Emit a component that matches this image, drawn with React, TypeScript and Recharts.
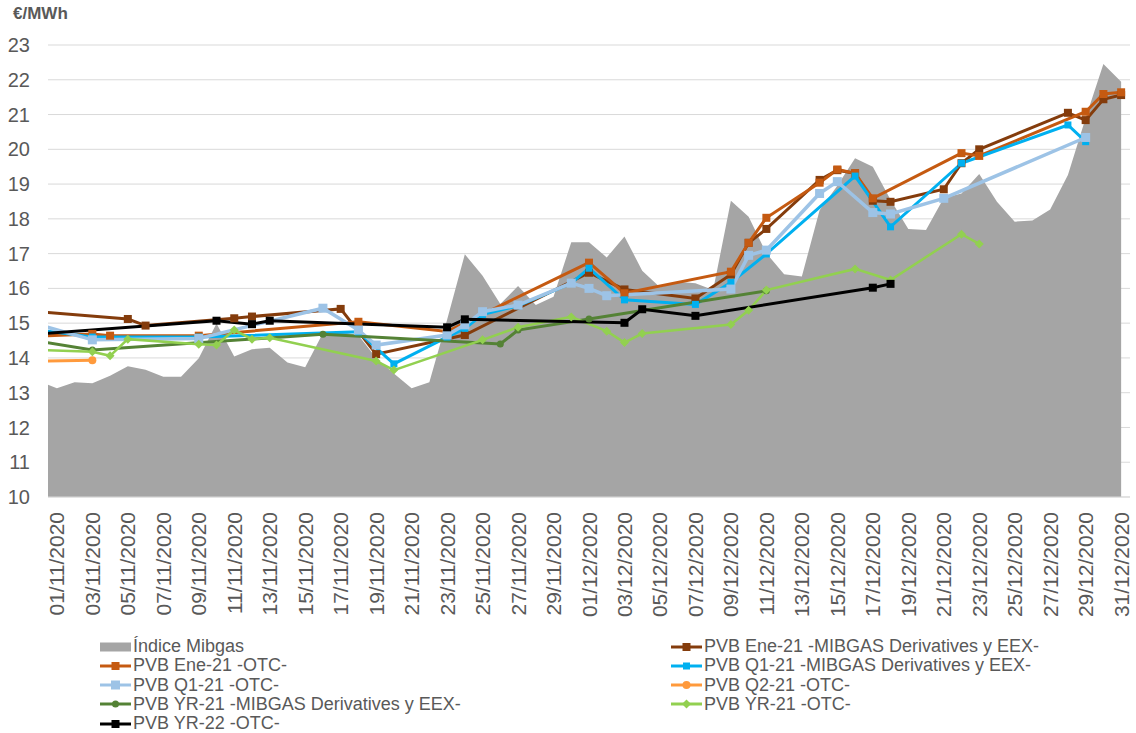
import React from 'react';
import { ComposedChart, Area, Line, XAxis, YAxis, CartesianGrid } from 'recharts';

const COLORS = {
  mibgas: '#A5A5A5',
  ene21Mibgas: '#843C0C',
  ene21Otc: '#C55A11',
  q121Mibgas: '#00B0F0',
  q121Otc: '#9DC3E6',
  q221Otc: '#FF9A3C',
  yr21Mibgas: '#548235',
  yr21Otc: '#92D050',
  yr22Otc: '#000000',
  grid: '#D9D9D9',
  text: '#595959',
};

// 31/10 sits half a day left of the plot so the lines run in from the edge
const DATES = [
  '31/10/2020',
  ...Array.from({ length: 30 }, (_, i) => `${String(i + 1).padStart(2, '0')}/11/2020`),
  ...Array.from({ length: 31 }, (_, i) => `${String(i + 1).padStart(2, '0')}/12/2020`),
];

const Y_TICKS = [10, 11, 12, 13, 14, 15, 16, 17, 18, 19, 20, 21, 22, 23];

// Índice Mibgas, one value per date
const MIBGAS = [
  13.32, 13.13, 13.3, 13.27, 13.49, 13.76, 13.66, 13.46, 13.46, 13.99, 14.99,
  14.04, 14.25, 14.29, 13.87, 13.73, 14.72, 14.75, 14.65, 14.0, 13.55, 13.13,
  13.3, 15.1, 16.98, 16.36, 15.55, 16.07, 15.52, 15.76, 17.33, 17.33, 16.89,
  17.49, 16.51, 16.03, 16.19, 16.15, 15.95, 18.52, 18.06, 17.01, 16.41, 16.34,
  18.25, 18.95, 19.74, 19.5, 18.55, 17.71, 17.68, 18.6, 18.73, 19.29, 18.49,
  17.92, 17.95, 18.27, 19.26, 20.9, 22.45, 21.94,
];

type Pt = [string, number];

const ENE21_MIBGAS: Pt[] = [
  ['31/10', 15.33], ['05/11', 15.12], ['06/11', 14.93], ['11/11', 15.14], ['12/11', 15.19],
  ['17/11', 15.41], ['19/11', 14.11], ['24/11', 14.66], ['01/12', 16.45], ['03/12', 15.97],
  ['07/12', 15.71], ['09/12', 16.4], ['10/12', 17.31], ['11/12', 17.71], ['14/12', 19.12],
  ['15/12', 19.4], ['16/12', 19.31], ['17/12', 18.52], ['18/12', 18.49], ['21/12', 18.85],
  ['22/12', 19.6], ['23/12', 20.0], ['28/12', 21.05], ['29/12', 20.84], ['30/12', 21.44],
  ['31/12', 21.56],
];

const ENE21_OTC: Pt[] = [
  ['31/10', 14.63], ['03/11', 14.69], ['04/11', 14.64], ['09/11', 14.64], ['18/11', 15.04],
  ['23/11', 14.76], ['01/12', 16.74], ['03/12', 15.86], ['09/12', 16.48], ['10/12', 17.31],
  ['11/12', 18.03], ['14/12', 19.04], ['15/12', 19.42], ['16/12', 19.31], ['17/12', 18.59],
  ['22/12', 19.89], ['23/12', 19.81], ['29/12', 21.08], ['30/12', 21.59], ['31/12', 21.64],
];

const Q121_MIBGAS: Pt[] = [
  ['31/10', 14.8], ['03/11', 14.6], ['09/11', 14.6], ['18/11', 14.75], ['20/11', 13.83],
  ['23/11', 14.6], ['24/11', 14.85], ['25/11', 15.25], ['27/11', 15.5], ['30/11', 16.15],
  ['01/12', 16.58], ['03/12', 15.67], ['07/12', 15.54], ['09/12', 16.17], ['11/12', 16.99],
  ['16/12', 19.23], ['18/12', 17.77], ['22/12', 19.6], ['28/12', 20.7], ['29/12', 20.22],
];

const Q121_OTC: Pt[] = [
  ['31/10', 14.95], ['03/11', 14.52], ['09/11', 14.56], ['16/11', 15.43], ['18/11', 14.8],
  ['19/11', 14.37], ['23/11', 14.66], ['24/11', 14.95], ['25/11', 15.33], ['27/11', 15.52],
  ['30/11', 16.15], ['01/12', 16.0], ['02/12', 15.79], ['09/12', 15.98], ['10/12', 16.95],
  ['11/12', 17.1], ['14/12', 18.73], ['15/12', 19.07], ['17/12', 18.18], ['18/12', 18.14],
  ['21/12', 18.59], ['29/12', 20.34],
];

const Q221_OTC: Pt[] = [['31/10', 13.91], ['03/11', 13.93]];

const YR21_MIBGAS: Pt[] = [
  ['31/10', 14.48], ['03/11', 14.23], ['16/11', 14.68], ['26/11', 14.4], ['27/11', 14.8],
  ['01/12', 15.12], ['11/12', 15.93],
];

const YR21_OTC: Pt[] = [
  ['31/10', 14.23], ['03/11', 14.18], ['04/11', 14.06], ['05/11', 14.54], ['09/11', 14.39],
  ['10/11', 14.37], ['11/11', 14.8], ['12/11', 14.54], ['13/11', 14.58], ['19/11', 13.91],
  ['20/11', 13.65], ['25/11', 14.52], ['27/11', 14.88], ['30/11', 15.18], ['02/12', 14.77],
  ['03/12', 14.44], ['04/12', 14.7], ['09/12', 14.96], ['10/12', 15.37], ['11/12', 15.95],
  ['16/12', 16.56], ['18/12', 16.24], ['22/12', 17.56], ['23/12', 17.28],
];

const YR22_OTC: Pt[] = [
  ['31/10', 14.69], ['10/11', 15.07], ['12/11', 14.97], ['13/11', 15.07], ['23/11', 14.88],
  ['24/11', 15.11], ['03/12', 15.01], ['04/12', 15.4], ['07/12', 15.21], ['17/12', 16.02],
  ['18/12', 16.13],
];

type Marker = 'square' | 'circle' | 'diamond';

const SERIES = [
  { key: 'ene21Mibgas', name: 'PVB Ene-21 -MIBGAS Derivatives y EEX-', points: ENE21_MIBGAS, color: COLORS.ene21Mibgas, marker: 'square' as Marker, size: 8, width: 3 },
  { key: 'ene21Otc', name: 'PVB Ene-21 -OTC-', points: ENE21_OTC, color: COLORS.ene21Otc, marker: 'square' as Marker, size: 8, width: 3 },
  { key: 'q121Mibgas', name: 'PVB Q1-21 -MIBGAS Derivatives y EEX-', points: Q121_MIBGAS, color: COLORS.q121Mibgas, marker: 'square' as Marker, size: 7, width: 3 },
  { key: 'q121Otc', name: 'PVB Q1-21 -OTC-', points: Q121_OTC, color: COLORS.q121Otc, marker: 'square' as Marker, size: 9, width: 3.5 },
  { key: 'q221Otc', name: 'PVB Q2-21 -OTC-', points: Q221_OTC, color: COLORS.q221Otc, marker: 'circle' as Marker, size: 8, width: 3 },
  { key: 'yr21Mibgas', name: 'PVB YR-21 -MIBGAS Derivatives y EEX-', points: YR21_MIBGAS, color: COLORS.yr21Mibgas, marker: 'circle' as Marker, size: 7, width: 3 },
  { key: 'yr21Otc', name: 'PVB YR-21 -OTC-', points: YR21_OTC, color: COLORS.yr21Otc, marker: 'diamond' as Marker, size: 9, width: 2.5 },
  { key: 'yr22Otc', name: 'PVB YR-22 -OTC-', points: YR22_OTC, color: COLORS.yr22Otc, marker: 'square' as Marker, size: 8, width: 3 },
];

const chartData = DATES.map((date, i) => {
  const row: Record<string, any> = { x: i - 1, date, mibgas: MIBGAS[i] };
  SERIES.forEach((s) => {
    const hit = s.points.find(([d]) => `${d}/2020` === date);
    row[s.key] = hit ? hit[1] : null;
  });
  return row;
});

const X_TICKS = chartData.filter((r) => r.x >= 0 && r.x % 2 === 0).map((r) => r.x);

const markerShape = (marker: Marker, cx: number, cy: number, size: number, color: string, key?: string) => {
  const h = size / 2;
  if (marker === 'circle') return <circle key={key} cx={cx} cy={cy} r={h} fill={color} />;
  if (marker === 'diamond') {
    return <path key={key} d={`M${cx},${cy - h}L${cx + h},${cy}L${cx},${cy + h}L${cx - h},${cy}Z`} fill={color} />;
  }
  return <rect key={key} x={cx - h} y={cy - h} width={size} height={size} fill={color} />;
};

const makeDot = (marker: Marker, size: number, color: string) => (props: any) => {
  const { cx, cy, index, value } = props;
  if (cx == null || cy == null || value == null) return <g key={`none-${index}`} />;
  return markerShape(marker, cx, cy, size, color, `dot-${index}`);
};

const DateTick = (props: any) => {
  const { x, y, payload } = props;
  const label = DATES[payload.value + 1];
  return (
    <text
      transform={`translate(${x},${y}) rotate(-90)`}
      textAnchor="end"
      dominantBaseline="central"
      fill={COLORS.text}
      fontSize={21}
      fontFamily="Liberation Sans, Arial, sans-serif"
    >
      {label}
    </text>
  );
};

const LegendItem = ({ s }: { s: any }) => (
  <div style={{ display: 'flex', alignItems: 'center', height: 19.25 }}>
    <svg width={31} height={12} style={{ marginRight: 2 }}>
      {s ? (
        <>
          <line x1={0} x2={31} y1={6} y2={6} stroke={s.color} strokeWidth={3} />
          {markerShape(s.marker, 15.5, 6, s.size, s.color)}
        </>
      ) : (
        <rect x={0} y={1.5} width={31} height={9} fill={COLORS.mibgas} />
      )}
    </svg>
    <span style={{ whiteSpace: 'nowrap' }}>{s ? s.name : 'Índice Mibgas'}</span>
  </div>
);

export default function App() {
  const legendItems = [null, ...SERIES];
  return (
    <div
      style={{
        position: 'absolute',
        left: 0,
        top: 0,
        width: 1136,
        height: 733,
        background: '#fff',
        fontFamily: 'Liberation Sans, Arial, sans-serif',
        color: COLORS.text,
      }}
    >
      <div style={{ position: 'absolute', left: 13, top: 4, fontSize: 17, fontWeight: 'bold' }}>€/MWh</div>
      <ComposedChart width={1136} height={640} data={chartData} margin={{ top: 45, right: 6, left: 0, bottom: 0 }}>
        <CartesianGrid vertical={false} stroke={COLORS.grid} />
        <XAxis
          type="number"
          dataKey="x"
          domain={[-0.5, 60.5]}
          allowDataOverflow
          ticks={X_TICKS}
          interval={0}
          tick={<DateTick />}
          tickLine={false}
          tickMargin={9}
          axisLine={{ stroke: COLORS.grid }}
          height={143}
        />
        <YAxis
          domain={[10, 23]}
          ticks={Y_TICKS}
          allowDataOverflow
          axisLine={false}
          tickLine={false}
          tickMargin={12}
          width={48}
          tick={{ fill: COLORS.text, fontSize: 20, fontFamily: 'Liberation Sans, Arial, sans-serif' }}
        />
        <Area
          type="linear"
          dataKey="mibgas"
          name="Índice Mibgas"
          fill={COLORS.mibgas}
          fillOpacity={1}
          stroke="none"
          isAnimationActive={false}
        />
        {SERIES.map((s) => (
          <Line
            key={s.key}
            type="linear"
            dataKey={s.key}
            name={s.name}
            stroke={s.color}
            strokeWidth={s.width}
            connectNulls
            dot={makeDot(s.marker, s.size, s.color)}
            activeDot={false}
            isAnimationActive={false}
          />
        ))}
      </ComposedChart>
      <div
        style={{
          position: 'absolute',
          left: 100,
          top: 637,
          display: 'grid',
          gridTemplateColumns: '571px auto',
          fontSize: 18,
          lineHeight: '19.25px',
        }}
      >
        {legendItems.map((s, i) => (
          <LegendItem key={i} s={s} />
        ))}
      </div>
    </div>
  );
}
